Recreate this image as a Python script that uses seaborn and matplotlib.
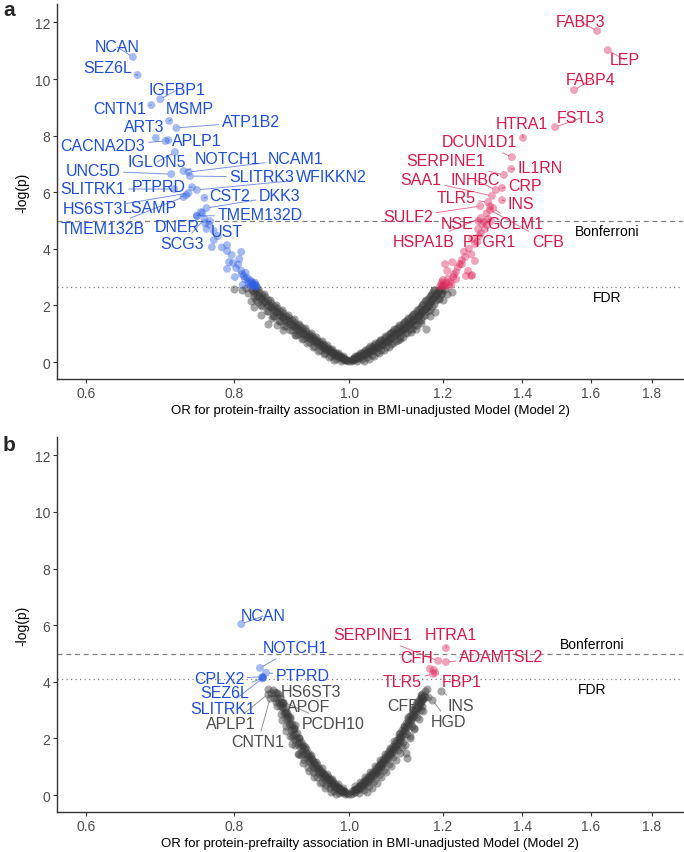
import numpy as np
import pandas as pd
import matplotlib
matplotlib.use("Agg")
import matplotlib.pyplot as plt
from matplotlib.ticker import FixedLocator, FixedFormatter, NullLocator
import seaborn as sns

# ---------------- data: panel a (frailty) ----------------
a_genes = ["NCAN", "SEZ6L", "IGFBP1", "CNTN1", "MSMP", "ATP1B2", "ART3", "APLP1",
           "CACNA2D3", "IGLON5", "NOTCH1", "NCAM1", "UNC5D", "SLITRK3", "WFIKKN2",
           "SLITRK1", "PTPRD", "CST2", "DKK3", "HS6ST3", "LSAMP", "TMEM132D",
           "TMEM132B", "DNER", "UST", "SCG3",
           "FABP3", "LEP", "FABP4", "FSTL3", "HTRA1", "DCUN1D1", "SERPINE1", "IL1RN",
           "SAA1", "INHBC", "CRP", "TLR5", "INS", "SULF2", "NSE", "GOLM1", "HSPA1B",
           "PTGR1", "CFB"]
a_gene_or = [0.657, 0.663, 0.693, 0.681, 0.705, 0.715, 0.687, 0.704,
             0.700, 0.713, 0.725, 0.732, 0.708, 0.734, 0.744,
             0.712, 0.737, 0.755, 0.758, 0.732, 0.729, 0.744,
             0.725, 0.752, 0.763, 0.755,
             1.619, 1.653, 1.548, 1.492, 1.402, 1.372, 1.351, 1.370,
             1.320, 1.330, 1.346, 1.310, 1.346, 1.290, 1.285, 1.323, 1.292,
             1.307, 1.315]
a_gene_logp = [10.78, 10.14, 9.29, 9.08, 8.52, 8.27, 7.92, 7.84,
               7.81, 7.42, 6.75, 6.71, 6.64, 6.57, 6.08,
               6.11, 6.18, 5.80, 5.44, 5.97, 5.90, 5.16,
               5.83, 5.27, 4.98, 5.05,
               11.70, 11.02, 9.61, 8.30, 7.92, 7.24, 6.61, 6.82,
               5.87, 6.08, 6.15, 5.65, 5.72, 5.51, 4.98, 5.44, 5.09,
               4.84, 5.37]

# unlabelled proteins, (OR, -log p)
a_points = np.array([
    # lower-OR side
    [0.756, 4.91], [0.758, 4.70], [0.769, 4.63], [0.769, 4.31], [0.789, 4.13], [0.789, 3.92],
    [0.766, 4.06], [0.811, 3.89], [0.792, 3.53], [0.798, 3.50], [0.808, 3.64], [0.789, 3.29],
    [0.803, 3.32], [0.811, 3.22], [0.812, 3.11], [0.828, 2.83], [0.832, 2.76], [0.823, 2.76],
    [0.817, 2.93], [0.801, 3.00], [0.815, 3.04], [0.822, 2.86], [0.830, 2.70], [0.826, 2.68],
    [0.834, 2.72], [0.827, 2.80], [0.820, 2.98], [0.825, 2.90], [0.750, 5.30], [0.744, 5.16],
    [0.762, 4.85], [0.775, 4.45], [0.781, 4.05], [0.796, 3.78], [0.806, 3.45], [0.818, 3.15],
    [0.813, 2.72], [0.836, 2.66], [0.829, 2.74], [0.833, 2.80], [0.831, 2.69], [0.835, 2.68],
    # higher-OR side
    [1.310, 5.05], [1.318, 4.98], [1.295, 4.88], [1.302, 4.70], [1.285, 4.70], [1.287, 4.45],
    [1.270, 4.35], [1.277, 4.17], [1.277, 3.57], [1.253, 3.71], [1.240, 3.46], [1.260, 3.22],
    [1.270, 3.07], [1.231, 3.18], [1.224, 3.00], [1.217, 2.83], [1.205, 3.46], [1.222, 3.53],
    [1.245, 3.46], [1.255, 3.04], [1.268, 3.04], [1.231, 2.93], [1.210, 3.22], [1.212, 2.95],
    [1.200, 2.90], [1.196, 2.75], [1.205, 2.70], [1.215, 2.68], [1.208, 2.80], [1.193, 2.66],
    [1.220, 2.75], [1.198, 2.82], [1.262, 4.00], [1.250, 3.90], [1.268, 3.80], [1.245, 3.60],
    [1.283, 4.25], [1.292, 4.55], [1.235, 3.35], [1.226, 3.10], [1.300, 4.95], [1.306, 5.25],
    [1.315, 5.50], [1.202, 2.72], [1.199, 2.68],
    # non-significant, left arm
    [0.997, 0.03], [0.992, 0.08], [0.987, 0.11], [0.982, 0.16], [0.977, 0.21], [0.972, 0.26],
    [0.967, 0.32], [0.962, 0.38], [0.957, 0.43], [0.952, 0.50], [0.947, 0.56], [0.942, 0.63],
    [0.937, 0.69], [0.932, 0.76], [0.927, 0.82], [0.922, 0.90], [0.917, 0.97], [0.912, 1.04],
    [0.907, 1.11], [0.902, 1.19], [0.897, 1.26], [0.892, 1.34], [0.887, 1.42], [0.882, 1.50],
    [0.877, 1.58], [0.872, 1.67], [0.867, 1.76], [0.862, 1.85], [0.857, 1.94], [0.852, 2.03],
    [0.847, 2.13], [0.842, 2.23], [0.837, 2.33], [0.832, 2.44], [0.828, 2.54],
    [0.9945, 0.08], [0.9895, 0.12], [0.9845, 0.17], [0.9795, 0.22], [0.9745, 0.27],
    [0.9695, 0.33], [0.9645, 0.39], [0.9595, 0.45], [0.9545, 0.51], [0.9495, 0.58],
    [0.9445, 0.64], [0.9395, 0.71], [0.9345, 0.78], [0.9295, 0.85], [0.9245, 0.92],
    [0.9195, 0.99], [0.9145, 1.06], [0.9095, 1.13], [0.9045, 1.21], [0.8995, 1.28],
    [0.8945, 1.36], [0.8895, 1.44], [0.8845, 1.52], [0.8795, 1.60], [0.8745, 1.69],
    [0.8695, 1.78], [0.8645, 1.87], [0.8595, 1.96], [0.8545, 2.06], [0.8495, 2.15],
    [0.8445, 2.25], [0.8395, 2.35], [0.8345, 2.46], [0.8295, 2.56],
    [0.995, 0.08], [0.990, 0.14], [0.985, 0.19], [0.980, 0.25], [0.975, 0.31], [0.970, 0.37],
    [0.965, 0.43], [0.960, 0.50], [0.955, 0.57], [0.950, 0.63], [0.945, 0.71], [0.940, 0.78],
    [0.935, 0.85], [0.930, 0.92], [0.925, 1.00], [0.920, 1.08], [0.915, 1.15], [0.910, 1.23],
    [0.905, 1.31], [0.900, 1.39], [0.895, 1.47], [0.890, 1.55], [0.885, 1.64], [0.880, 1.72],
    [0.875, 1.81], [0.870, 1.90], [0.865, 1.99], [0.860, 2.08], [0.855, 2.18], [0.850, 2.28],
    [0.845, 2.38], [0.840, 2.49], [0.835, 2.59],
    [0.985, 0.05], [0.975, 0.12], [0.965, 0.22], [0.955, 0.32], [0.945, 0.44], [0.935, 0.56],
    [0.925, 0.70], [0.915, 0.84], [0.905, 0.98], [0.895, 1.13], [0.885, 1.28], [0.875, 1.45],
    [0.865, 1.62], [0.855, 1.80], [0.845, 1.98], [0.838, 2.12], [0.831, 2.30],
    [0.988, 0.20], [0.978, 0.32], [0.968, 0.45], [0.958, 0.60], [0.948, 0.74], [0.938, 0.89],
    [0.928, 1.04], [0.918, 1.19], [0.908, 1.35], [0.898, 1.51], [0.888, 1.67], [0.878, 1.84],
    [0.868, 2.02], [0.858, 2.20], [0.848, 2.39], [0.838, 2.58],
    [0.972, 0.06], [0.962, 0.16], [0.952, 0.28], [0.942, 0.40], [0.932, 0.53], [0.922, 0.67],
    [0.912, 0.81], [0.902, 0.96], [0.892, 1.12], [0.882, 1.28], [0.872, 1.45], [0.862, 1.63],
    [0.852, 1.82], [0.842, 2.01], [0.834, 2.20],
    [0.855, 1.34], [0.843, 1.66], [0.832, 1.94], [0.800, 2.58], [0.812, 2.55], [0.826, 2.15],
    [0.870, 1.32], [0.880, 1.12], [0.861, 1.55], [0.900, 0.95], [0.822, 2.45], [0.818, 2.60],
    # non-significant, right arm
    [1.003, 0.03], [1.008, 0.06], [1.013, 0.10], [1.018, 0.15], [1.023, 0.19], [1.028, 0.24],
    [1.033, 0.29], [1.038, 0.33], [1.043, 0.38], [1.048, 0.43], [1.053, 0.48], [1.058, 0.54],
    [1.063, 0.59], [1.068, 0.65], [1.073, 0.70], [1.078, 0.76], [1.083, 0.82], [1.088, 0.89],
    [1.093, 0.95], [1.098, 1.01], [1.103, 1.06], [1.108, 1.12], [1.113, 1.18], [1.118, 1.24],
    [1.123, 1.31], [1.128, 1.38], [1.133, 1.45], [1.138, 1.53], [1.143, 1.61], [1.148, 1.69],
    [1.153, 1.77], [1.158, 1.86], [1.163, 1.96], [1.168, 2.06], [1.173, 2.16], [1.178, 2.26],
    [1.183, 2.37], [1.188, 2.48], [1.193, 2.59],
    [1.0055, 0.08], [1.0105, 0.12], [1.0155, 0.16], [1.0205, 0.21], [1.0255, 0.25],
    [1.0305, 0.30], [1.0355, 0.35], [1.0405, 0.39], [1.0455, 0.44], [1.0505, 0.49],
    [1.0555, 0.54], [1.0605, 0.60], [1.0655, 0.65], [1.0705, 0.71], [1.0755, 0.76],
    [1.0805, 0.82], [1.0855, 0.88], [1.0905, 0.95], [1.0955, 1.01], [1.1005, 1.07],
    [1.1055, 1.12], [1.1105, 1.18], [1.1155, 1.24], [1.1205, 1.30], [1.1255, 1.37],
    [1.1305, 1.44], [1.1355, 1.51], [1.1405, 1.59], [1.1455, 1.67], [1.1505, 1.75],
    [1.1555, 1.83], [1.1605, 1.92], [1.1655, 2.02], [1.1705, 2.12], [1.1755, 2.22],
    [1.1805, 2.32], [1.1855, 2.43], [1.1905, 2.54],
    [1.005, 0.09], [1.010, 0.15], [1.015, 0.20], [1.020, 0.26], [1.025, 0.31], [1.030, 0.37],
    [1.035, 0.42], [1.040, 0.48], [1.045, 0.54], [1.050, 0.59], [1.055, 0.65], [1.060, 0.71],
    [1.065, 0.77], [1.070, 0.83], [1.075, 0.89], [1.080, 0.96], [1.085, 1.02], [1.090, 1.08],
    [1.095, 1.15], [1.100, 1.21], [1.105, 1.27], [1.110, 1.33], [1.115, 1.40], [1.120, 1.47],
    [1.125, 1.54], [1.130, 1.62], [1.135, 1.70], [1.140, 1.78], [1.145, 1.86], [1.150, 1.95],
    [1.155, 2.04], [1.160, 2.14], [1.165, 2.24], [1.170, 2.34], [1.175, 2.45], [1.180, 2.56],
    [1.015, 0.04], [1.025, 0.10], [1.035, 0.17], [1.045, 0.25], [1.055, 0.34], [1.065, 0.43],
    [1.075, 0.54], [1.085, 0.65], [1.095, 0.76], [1.105, 0.89], [1.115, 1.02], [1.125, 1.15],
    [1.135, 1.30], [1.145, 1.46], [1.155, 1.62], [1.165, 1.80], [1.175, 1.98], [1.185, 2.18],
    [1.195, 2.40],
    [1.012, 0.22], [1.022, 0.33], [1.032, 0.44], [1.042, 0.55], [1.052, 0.67], [1.062, 0.79],
    [1.072, 0.91], [1.082, 1.04], [1.092, 1.17], [1.102, 1.30], [1.112, 1.42], [1.122, 1.56],
    [1.132, 1.70], [1.142, 1.85], [1.152, 2.01], [1.162, 2.19], [1.172, 2.38], [1.180, 2.55],
    [1.030, 0.05], [1.040, 0.12], [1.050, 0.21], [1.060, 0.31], [1.070, 0.42], [1.080, 0.54],
    [1.090, 0.66], [1.100, 0.78], [1.110, 0.89], [1.120, 1.02], [1.130, 1.15], [1.140, 1.31],
    [1.150, 1.47], [1.160, 1.65], [1.170, 1.85], [1.180, 2.05], [1.190, 2.27], [1.198, 2.45],
    [1.182, 1.77], [1.161, 1.17], [1.139, 1.17], [1.222, 2.47], [1.150, 1.38], [1.170, 1.62],
    [1.200, 2.20], [1.128, 1.05], [1.105, 0.82], [1.198, 2.55], [1.205, 2.58], [1.190, 2.22],
    [1.210, 2.40],
])
a_bonferroni = 5.0
a_fdr = 2.65

# ---------------- data: panel b (prefrailty) ----------------
b_genes = ["NCAN", "NOTCH1", "PTPRD", "CPLX2", "SEZ6L", "SLITRK1", "HS6ST3", "APOF",
           "PCDH10", "APLP1", "CNTN1", "SERPINE1", "HTRA1", "CFH", "ADAMTSL2", "TLR5",
           "FBP1", "CFB", "INS", "HGD"]
b_gene_or = [0.811, 0.841, 0.851, 0.845, 0.846, 0.845, 0.855, 0.860,
             0.864, 0.855, 0.858, 1.189, 1.207, 1.170, 1.207, 1.177,
             1.182, 1.157, 1.196, 1.175]
b_gene_logp = [6.04, 4.49, 4.32, 4.18, 4.14, 4.12, 3.75, 3.61,
               3.44, 3.58, 3.44, 4.74, 5.19, 4.46, 4.70, 4.28,
               4.32, 3.50, 3.68, 3.37]

b_points = np.array([
    [1.179, 4.42], [0.846, 4.16],
    # left arm
    [0.997, 0.02], [0.993, 0.05], [0.989, 0.09], [0.985, 0.12], [0.981, 0.16], [0.977, 0.21],
    [0.973, 0.27], [0.969, 0.33], [0.965, 0.40], [0.961, 0.46], [0.957, 0.52], [0.953, 0.59],
    [0.949, 0.66], [0.945, 0.74], [0.941, 0.83], [0.937, 0.91], [0.933, 1.00], [0.929, 1.10],
    [0.925, 1.21], [0.921, 1.32], [0.917, 1.44], [0.913, 1.56], [0.909, 1.68], [0.905, 1.82],
    [0.901, 1.96], [0.897, 2.13], [0.893, 2.30], [0.889, 2.50], [0.885, 2.70], [0.881, 2.90],
    [0.877, 3.10], [0.873, 3.28], [0.869, 3.42],
    [0.996, 0.08], [0.992, 0.11], [0.988, 0.15], [0.984, 0.19], [0.980, 0.24], [0.976, 0.30],
    [0.972, 0.36], [0.968, 0.43], [0.964, 0.49], [0.960, 0.56], [0.956, 0.63], [0.952, 0.70],
    [0.948, 0.78], [0.944, 0.87], [0.940, 0.96], [0.936, 1.05], [0.932, 1.15], [0.928, 1.26],
    [0.924, 1.37], [0.920, 1.49], [0.916, 1.61], [0.912, 1.73], [0.908, 1.87], [0.904, 2.01],
    [0.900, 2.17], [0.896, 2.34], [0.892, 2.52], [0.888, 2.72], [0.884, 2.92], [0.880, 3.12],
    [0.876, 3.30],
    [0.991, 0.14], [0.987, 0.18], [0.983, 0.23], [0.979, 0.29], [0.975, 0.35], [0.971, 0.42],
    [0.967, 0.49], [0.963, 0.56], [0.959, 0.63], [0.955, 0.70], [0.951, 0.78], [0.947, 0.86],
    [0.943, 0.96], [0.939, 1.06], [0.935, 1.16], [0.931, 1.27], [0.927, 1.38], [0.923, 1.50],
    [0.919, 1.63], [0.915, 1.76], [0.911, 1.89], [0.907, 2.03], [0.903, 2.18], [0.899, 2.34],
    [0.895, 2.52], [0.891, 2.70], [0.887, 2.90], [0.883, 3.10], [0.879, 3.30], [0.875, 3.45],
    [0.871, 3.58],
    [0.980, 0.08], [0.972, 0.15], [0.964, 0.25], [0.956, 0.35], [0.948, 0.47], [0.940, 0.62],
    [0.932, 0.80], [0.924, 1.00], [0.916, 1.22], [0.908, 1.46], [0.900, 1.75], [0.892, 2.08],
    [0.884, 2.45], [0.876, 2.85], [0.870, 3.15],
    [0.988, 0.25], [0.978, 0.40], [0.968, 0.58], [0.958, 0.76], [0.948, 0.96], [0.938, 1.18],
    [0.928, 1.42], [0.918, 1.70], [0.908, 2.02], [0.898, 2.38], [0.888, 2.80], [0.878, 3.25],
    [0.870, 3.62],
    [0.975, 0.05], [0.965, 0.12], [0.955, 0.25], [0.945, 0.42], [0.935, 0.62], [0.925, 0.86],
    [0.915, 1.14], [0.905, 1.45], [0.895, 1.82], [0.885, 2.25], [0.877, 2.65],
    [0.874, 3.16], [0.883, 2.91], [0.891, 2.74], [0.900, 2.46], [0.866, 3.60], [0.862, 3.70],
    [0.868, 3.30], [0.880, 3.25], [0.895, 2.05], [0.910, 1.40],
    # right arm
    [1.003, 0.03], [1.007, 0.07], [1.011, 0.11], [1.015, 0.16], [1.019, 0.21], [1.023, 0.26],
    [1.027, 0.32], [1.031, 0.38], [1.035, 0.45], [1.039, 0.51], [1.043, 0.58], [1.047, 0.66],
    [1.051, 0.74], [1.055, 0.82], [1.059, 0.90], [1.063, 0.98], [1.067, 1.06], [1.071, 1.14],
    [1.075, 1.22], [1.079, 1.31], [1.083, 1.40], [1.087, 1.49], [1.091, 1.59], [1.095, 1.69],
    [1.099, 1.79], [1.103, 1.90], [1.107, 2.01], [1.111, 2.13], [1.115, 2.26], [1.119, 2.39],
    [1.123, 2.51], [1.127, 2.62], [1.131, 2.73], [1.135, 2.84], [1.139, 2.95], [1.143, 3.06],
    [1.147, 3.17], [1.151, 3.28], [1.155, 3.38], [1.159, 3.48],
    [1.005, 0.13], [1.009, 0.17], [1.013, 0.21], [1.017, 0.26], [1.021, 0.31], [1.025, 0.37],
    [1.029, 0.43], [1.033, 0.50], [1.037, 0.56], [1.041, 0.63], [1.045, 0.70], [1.049, 0.78],
    [1.053, 0.86], [1.057, 0.94], [1.061, 1.02], [1.065, 1.10], [1.069, 1.18], [1.073, 1.26],
    [1.077, 1.35], [1.081, 1.44], [1.085, 1.53], [1.089, 1.62], [1.093, 1.72], [1.097, 1.82],
    [1.101, 1.93], [1.105, 2.04], [1.109, 2.16], [1.113, 2.28], [1.117, 2.41], [1.121, 2.53],
    [1.125, 2.64], [1.129, 2.76], [1.133, 2.87], [1.137, 2.98], [1.141, 3.09], [1.145, 3.20],
    [1.149, 3.31], [1.153, 3.41],
    [1.009, 0.18], [1.013, 0.23], [1.017, 0.29], [1.021, 0.35], [1.025, 0.41], [1.029, 0.48],
    [1.033, 0.55], [1.037, 0.62], [1.041, 0.70], [1.045, 0.78], [1.049, 0.86], [1.053, 0.94],
    [1.057, 1.02], [1.061, 1.10], [1.065, 1.18], [1.069, 1.27], [1.073, 1.36], [1.077, 1.45],
    [1.081, 1.54], [1.085, 1.64], [1.089, 1.74], [1.093, 1.84], [1.097, 1.95], [1.101, 2.06],
    [1.105, 2.18], [1.109, 2.30], [1.113, 2.42], [1.117, 2.55], [1.121, 2.67], [1.125, 2.79],
    [1.129, 2.90], [1.133, 3.01], [1.137, 3.13], [1.141, 3.25], [1.145, 3.36], [1.149, 3.47],
    [1.153, 3.56],
    [1.020, 0.08], [1.030, 0.18], [1.040, 0.32], [1.050, 0.50], [1.060, 0.70], [1.070, 0.90],
    [1.080, 1.10], [1.090, 1.33], [1.100, 1.58], [1.110, 1.86], [1.120, 2.15], [1.130, 2.45],
    [1.140, 2.75], [1.150, 3.02],
    [1.012, 0.32], [1.022, 0.47], [1.032, 0.64], [1.042, 0.82], [1.052, 1.02], [1.062, 1.23],
    [1.072, 1.44], [1.082, 1.66], [1.092, 1.90], [1.102, 2.16], [1.112, 2.45], [1.122, 2.75],
    [1.132, 3.03], [1.142, 3.30], [1.150, 3.55],
    [1.035, 0.10], [1.045, 0.25], [1.055, 0.42], [1.065, 0.62], [1.075, 0.82], [1.085, 1.02],
    [1.095, 1.25], [1.105, 1.50], [1.115, 1.78], [1.125, 2.08], [1.135, 2.38], [1.145, 2.68],
    [1.155, 2.98],
    [1.117, 1.47], [1.119, 1.30], [1.145, 3.26], [1.152, 3.16], [1.139, 3.09], [1.150, 3.44],
    [1.166, 3.47], [1.160, 3.66], [1.163, 3.75], [1.108, 1.70], [1.125, 2.00], [1.135, 2.35],
])
b_bonferroni = 5.0
b_fdr = 4.1

x_ticks = [0.6, 0.8, 1.0, 1.2, 1.4, 1.6, 1.8]
y_ticks = [0, 2, 4, 6, 8, 10, 12]

# ---------------- layout: label positions (pixels from top-left) ----------------
W, H = 684, 853
a_label_px = {
    "NCAN": (117, 48), "SEZ6L": (108, 69), "IGFBP1": (177, 91), "CNTN1": (120, 110),
    "MSMP": (190, 110), "ATP1B2": (251, 123), "ART3": (144, 128), "APLP1": (197, 142),
    "CACNA2D3": (103, 147), "IGLON5": (157, 163), "NOTCH1": (227, 160), "NCAM1": (296, 160),
    "UNC5D": (93, 172), "SLITRK3": (262, 178), "WFIKKN2": (331, 178), "SLITRK1": (93, 190),
    "PTPRD": (159, 188), "CST2": (230, 197), "DKK3": (280, 197), "HS6ST3": (93, 210),
    "LSAMP": (150, 209), "TMEM132D": (260, 216), "TMEM132B": (103, 230), "DNER": (177, 228),
    "UST": (227, 233), "SCG3": (182, 245),
    "FABP3": (581, 23), "LEP": (625, 61), "FABP4": (591, 81), "FSTL3": (581, 119),
    "HTRA1": (522, 125), "DCUN1D1": (479, 143), "SERPINE1": (446, 162), "IL1RN": (540, 169),
    "SAA1": (421, 181), "INHBC": (475, 181), "CRP": (525, 187), "TLR5": (456, 199),
    "INS": (521, 205), "SULF2": (408, 218), "NSE": (457, 225), "GOLM1": (515, 225),
    "HSPA1B": (424, 243), "PTGR1": (489, 243), "CFB": (548, 243),
}
b_label_px = {
    "NCAN": (263, 617), "NOTCH1": (295, 649), "PTPRD": (303, 677), "CPLX2": (219, 680),
    "SEZ6L": (225, 694), "SLITRK1": (223, 710), "HS6ST3": (311, 693), "APOF": (309, 708),
    "PCDH10": (333, 725), "APLP1": (231, 725), "CNTN1": (258, 743), "SERPINE1": (373, 636),
    "HTRA1": (451, 636), "CFH": (417, 659), "ADAMTSL2": (501, 658), "TLR5": (402, 683),
    "FBP1": (462, 683), "CFB": (403, 707), "INS": (461, 707), "HGD": (449, 723),
}

sns.set_theme(style="ticks")
plt.rcParams["font.family"] = ["Liberation Sans", "DejaVu Sans"]

point_pal = {"ns": "#3a3a3a", "down": "#2d5fe3", "up": "#dc2459"}
text_pal = {"ns": "#4d4d4d", "down": "#1f4fd4", "up": "#d21a4b"}


def group(o, lp, fdr):
    if lp < fdr:
        return "ns"
    return "down" if o < 1 else "up"


def draw_panel(ax, genes, g_or, g_lp, pts, bonf, fdr, label_px, xlabel,
               bonf_xy, fdr_xy):
    df = pd.DataFrame({"OR": list(pts[:, 0]) + list(g_or),
                       "logp": list(pts[:, 1]) + list(g_lp)})
    df["grp"] = [group(o, p, fdr) for o, p in zip(df["OR"], df["logp"])]
    # grey cloud first, then the significant proteins on top
    sns.scatterplot(data=df[df.grp == "ns"], x="OR", y="logp", color=point_pal["ns"],
                    s=34, alpha=0.45, linewidth=0, legend=False, ax=ax, zorder=2)
    sns.scatterplot(data=df[df.grp != "ns"], x="OR", y="logp", hue="grp",
                    palette=point_pal, s=32, alpha=0.42, linewidth=0, legend=False,
                    ax=ax, zorder=3)

    ax.axhline(bonf, ls=(0, (4, 3)), color="#808080", lw=0.9, zorder=1)
    ax.axhline(fdr, ls=(0, (1, 2.6)), color="#808080", lw=0.9, zorder=1)
    ax.text(*bonf_xy, "Bonferroni", fontsize=10, ha="center", va="center", color="black")
    ax.text(*fdr_xy, "FDR", fontsize=10, ha="center", va="center", color="black")

    for g, o, p in zip(genes, g_or, g_lp):
        c = text_pal[group(o, p, fdr)]
        px, py = label_px[g]
        ax.annotate(g, xy=(o, p), xycoords="data", xytext=(px, H - py),
                    textcoords="figure pixels", ha="center", va="center",
                    fontsize=11.5, color=c, zorder=4,
                    arrowprops=dict(arrowstyle="-", color=c, lw=0.7, alpha=0.6,
                                    shrinkA=0, shrinkB=2.5))

    ax.set_xscale("log")
    ax.set_xlim(0.567, 1.913)
    ax.set_ylim(-0.6, 12.65)
    ax.xaxis.set_major_locator(FixedLocator(x_ticks))
    ax.xaxis.set_major_formatter(FixedFormatter([f"{t:.1f}" for t in x_ticks]))
    ax.xaxis.set_minor_locator(NullLocator())
    ax.set_yticks(y_ticks)
    ax.set_xlabel(xlabel, fontsize=9.5, color="black", labelpad=3)
    ax.set_ylabel("-log(p)", fontsize=10, color="black")
    ax.tick_params(axis="both", length=3, width=0.8, color="#333333",
                   labelcolor="#4d4d4d", labelsize=10, pad=2)
    for side in ["left", "bottom"]:
        ax.spines[side].set_color("#333333")
        ax.spines[side].set_linewidth(1.0)
    sns.despine(ax=ax)


fig = plt.figure(figsize=(W / 100, H / 100), dpi=100)
ax_a = fig.add_axes([57 / W, 473 / H, 626 / W, 375 / H])
ax_b = fig.add_axes([57 / W, 40 / H, 626 / W, 375 / H])

draw_panel(ax_a, a_genes, a_gene_or, a_gene_logp, a_points, a_bonferroni, a_fdr,
           a_label_px, "OR for protein-frailty association in BMI-unadjusted Model (Model 2)",
           (1.65, 4.63), (1.65, 2.30))
draw_panel(ax_b, b_genes, b_gene_or, b_gene_logp, b_points, b_bonferroni, b_fdr,
           b_label_px, "OR for protein-prefrailty association in BMI-unadjusted Model (Model 2)",
           (1.603, 5.33), (1.603, 3.75))

fig.text(3 / W, 1 - 10 / H, "a", fontsize=15, fontweight="bold", va="center", ha="left")
fig.text(3 / W, 1 - 446 / H, "b", fontsize=15, fontweight="bold", va="center", ha="left")

fig.savefig("out.png", dpi=100)
